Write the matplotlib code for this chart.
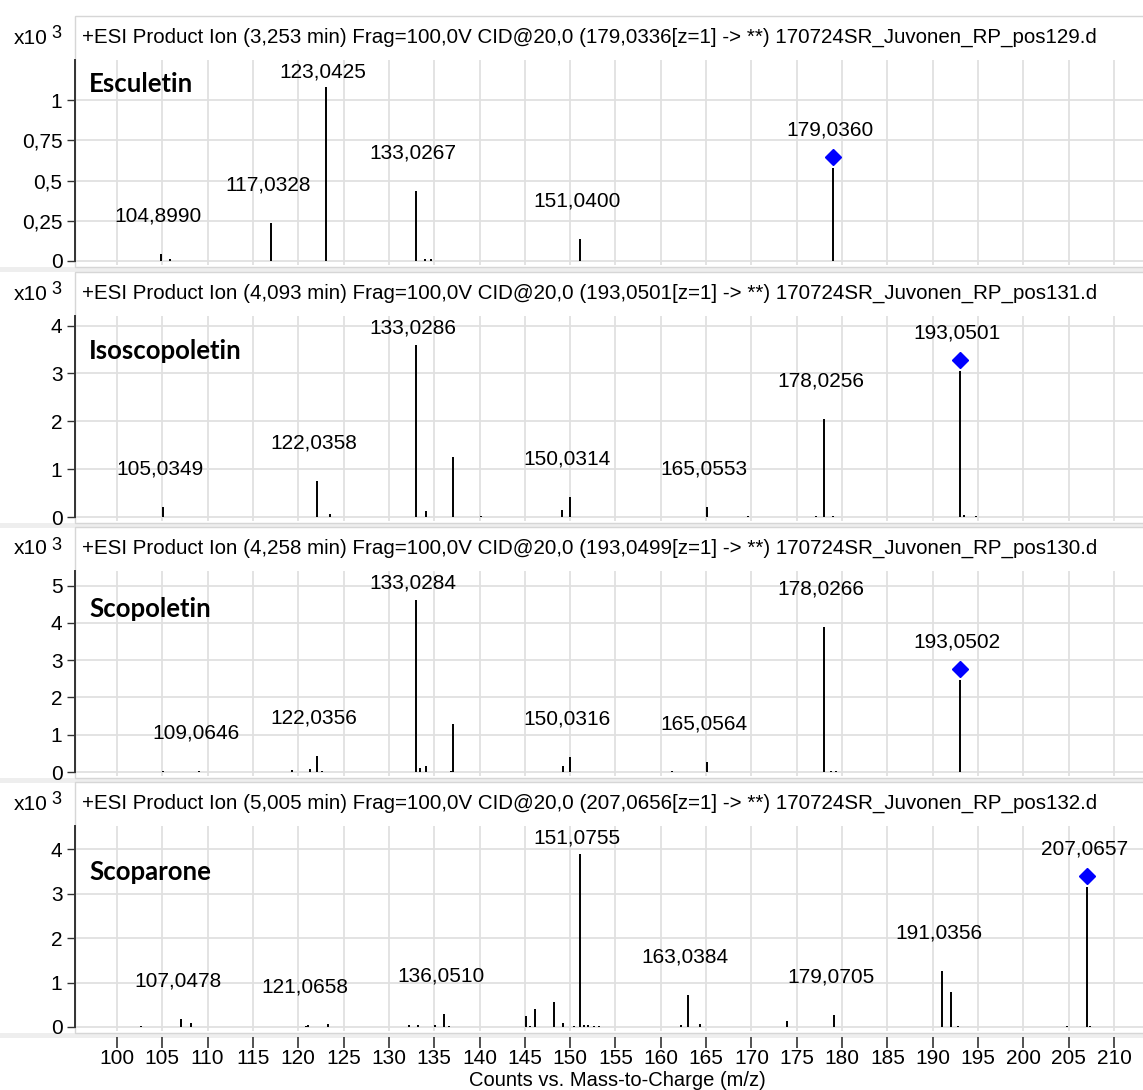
import numpy as np
import matplotlib.pyplot as plt
import matplotlib.transforms as mtransforms
from matplotlib.patches import Rectangle
from matplotlib.ticker import FuncFormatter

plt.rcParams['font.family'] = ['Liberation Sans', 'DejaVu Sans']

# compound names, scan info
names = ['Esculetin', 'Isoscopoletin', 'Scopoletin', 'Scoparone']
rt_min = ['3,253', '4,093', '4,258', '5,005']
prec_mz = ['179,0336', '193,0501', '193,0499', '207,0656']
file_no = ['129', '131', '130', '132']

# peaks (m/z, counts x10^3); labeled peaks get their m/z printed
esc_mz = [104.8990, 105.9, 117.0328, 123.0425, 133.0267, 134.0, 134.7, 151.0400, 179.0360]
esc_h = [0.045, 0.01, 0.234, 1.08, 0.435, 0.015, 0.01, 0.135, 0.578]
esc_lab = [1, 0, 1, 1, 1, 0, 0, 1, 1]

iso_mz = [105.0349, 122.0358, 123.5, 133.0286, 134.1, 137.05, 140.2, 149.1, 150.0314,
          165.0553, 169.6, 177.1, 178.0256, 179.0, 193.0501, 193.5, 194.8]
iso_h = [0.215, 0.76, 0.06, 3.59, 0.13, 1.25, 0.02, 0.15, 0.42,
         0.215, 0.02, 0.03, 2.04, 0.03, 3.05, 0.04, 0.02]
iso_lab = [1, 1, 0, 1, 0, 0, 0, 0, 1, 1, 0, 0, 1, 0, 1, 0, 0]

sco_mz = [105.1, 109.0646, 119.3, 121.3, 122.0356, 122.6, 133.0284, 133.4, 134.1, 136.9,
          137.05, 149.2, 150.0316, 161.2, 165.0564, 178.0266, 178.8, 179.3, 193.0502]
sco_h = [0.02, 0.02, 0.05, 0.08, 0.44, 0.03, 4.6, 0.1, 0.17, 0.03,
         1.28, 0.15, 0.39, 0.03, 0.26, 3.9, 0.03, 0.02, 2.46]
sco_lab = [0, 1, 0, 0, 1, 0, 1, 0, 0, 0, 0, 0, 1, 0, 1, 1, 0, 0, 1]

scp_mz = [102.7, 107.0478, 108.2, 120.9, 121.0658, 123.3, 132.2, 133.2, 135.1, 136.0510,
          136.6, 145.1, 145.6, 146.1, 148.2, 149.2, 150.4, 151.0755, 151.5, 152.0,
          152.6, 153.2, 162.2, 163.0384, 164.3, 173.9, 179.0705, 191.0356, 192.0, 192.8,
          204.8, 207.0657, 207.4]
scp_h = [0.02, 0.18, 0.09, 0.02, 0.05, 0.06, 0.04, 0.04, 0.05, 0.30,
         0.03, 0.25, 0.03, 0.40, 0.57, 0.10, 0.02, 3.9, 0.05, 0.04,
         0.03, 0.02, 0.05, 0.71, 0.07, 0.13, 0.28, 1.25, 0.79, 0.03,
         0.02, 3.15, 0.03]
scp_lab = [0, 1, 0, 0, 1, 0, 0, 0, 0, 1,
           0, 0, 0, 0, 0, 0, 0, 1, 0, 0,
           0, 0, 0, 1, 0, 0, 1, 1, 0, 0,
           0, 1, 0]

precursors = [179.0360, 193.0501, 193.0502, 207.0657]
all_mz = [esc_mz, iso_mz, sco_mz, scp_mz]
all_h = [esc_h, iso_h, sco_h, scp_h]
all_lab = [esc_lab, iso_lab, sco_lab, scp_lab]
yticks = [[0, 0.25, 0.5, 0.75, 1], [0, 1, 2, 3, 4], [0, 1, 2, 3, 4, 5], [0, 1, 2, 3, 4]]
ylims = [(-0.025, 1.25), (-0.083, 4.2), (-0.107, 5.39), (-0.09, 4.52)]

W, H = 1143, 1090
fig = plt.figure(figsize=(W / 100, H / 100), dpi=100)
tops = [16, 272, 527, 782]
fs = 15

def comma(v, pos=None):
    return ('%g' % v).replace('.', ',')

for k in range(4):
    P = tops[k]
    # panel frame
    fig.patches.append(Rectangle((0, 1 - (P + 256) / H), 1, 5 / H, transform=fig.transFigure,
                                 facecolor='#eeeeee', edgecolor='none', zorder=-2))
    fig.patches.append(Rectangle((75 / W, 1 - (P + 251) / H), 1, 251 / H, transform=fig.transFigure,
                                 facecolor='white', edgecolor='#d6d6d6', lw=1, zorder=-1))
    hdr = ('+ESI Product Ion (%s min) Frag=100,0V CID@20,0 (%s[z=1] -> **) 170724SR_Juvonen_RP_pos%s.d'
           % (rt_min[k], prec_mz[k], file_no[k]))
    fig.text(82 / W, 1 - (P + 21) / H, hdr, fontsize=14.8, va='center', ha='left')
    fig.text(48 / W, 1 - (P + 22) / H, 'x10', fontsize=fs, va='center', ha='right')
    fig.text(51 / W, 1 - (P + 18) / H, '3', fontsize=fs - 2, va='center', ha='left')

    ax = fig.add_axes([75 / W, 1 - (P + 249) / H, (W - 75) / W, 205 / H])
    ax.patch.set_alpha(0)
    ax.set_xlim(95.37, 213.2)
    ax.set_ylim(*ylims[k])
    ax.set_xticks(np.arange(100, 211, 5))
    ax.set_yticks(yticks[k])
    ax.yaxis.set_major_formatter(FuncFormatter(comma))
    ax.grid(color='#e0e0e0', lw=1.3, zorder=0)
    ax.set_axisbelow(True)
    for s in ['top', 'right', 'bottom']:
        ax.spines[s].set_visible(False)
    ax.spines['left'].set_color('#333333')
    ax.spines['left'].set_linewidth(1.4)
    ax.spines['left'].set_bounds(0, ylims[k][1])
    ax.tick_params(axis='y', length=6, width=1, color='#333333', pad=3, labelsize=fs)

    if k < 3:
        ax.tick_params(axis='x', bottom=False, labelbottom=False)
    else:
        ax.spines['bottom'].set_position(('outward', 4))
        ax.tick_params(axis='x', length=8, width=1.2, color='#333333', pad=1, labelsize=fs)
        fig.text(617 / W, 1 - 1081 / H, 'Counts vs. Mass-to-Charge (m/z)', fontsize=14.5,
                 ha='center', va='center')

    mz = np.array(all_mz[k])
    h = np.array(all_h[k])
    ax.vlines(mz, 0, h, color='black', lw=1.4, zorder=3)

    # precursor marker a few pixels above the stem
    i_p = int(np.argmin(np.abs(mz - precursors[k])))
    up = mtransforms.ScaledTranslation(0, 11 / 100, fig.dpi_scale_trans)
    ax.plot([mz[i_p]], [h[i_p]], 'D', color='#0000ff', ms=8, mec='#0000ff',
            transform=ax.transData + up, clip_on=False, zorder=4)

    ax.text(14 / (W - 75), [0.885, 0.83, 0.815, 0.776][k], names[k], transform=ax.transAxes,
            fontsize=18.5, fontweight='bold', family='Lato', ha='left', va='center')

    # peak labels, kept inside the plot area
    top_px = ax.transAxes.transform((0, 1))[1]
    for i in range(len(mz)):
        if not all_lab[k][i]:
            continue
        xd, yd = ax.transData.transform((mz[i], h[i]))
        ty = min(yd + 38, top_px - 12)
        ax.text(xd - 3, ty, ('%.4f' % mz[i]).replace('.', ','), transform=mtransforms.IdentityTransform(),
                fontsize=fs, ha='center', va='center', zorder=5)

fig.savefig('out.png', dpi=100)
